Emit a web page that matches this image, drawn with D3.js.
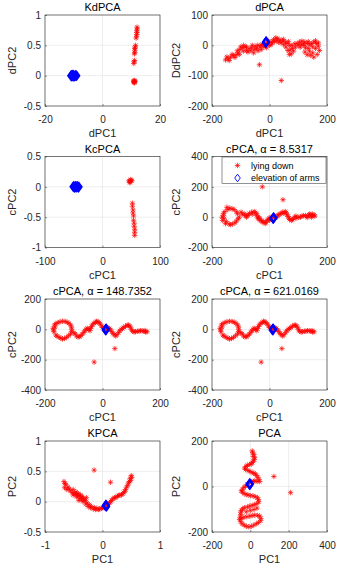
<!DOCTYPE html>
<html>
<head>
<meta charset="utf-8">
<script src="https://cdn.jsdelivr.net/npm/d3@7"></script>
<style>
	body { margin: 0; background: #fff; }
	svg { display: block; font-family: "Liberation Sans", Arial, Helvetica, sans-serif; }
</style>
</head>
<body>
<div id="chart"></div>
<script>
// ---- datos ----
const kdRed = [[11,-0.1],[11.1,-0.08],[10.9,-0.11],[11.2,-0.1],[11,-0.09],[11.1,-0.12],[10.8,-0.09],[11.3,-0.09],
	[10.9,0.2],[11,0.23],[11.1,0.25],
	[11.1,0.36],[11.2,0.38],[11.3,0.42],[11.2,0.45],[11.4,0.47],[11.5,0.5],
	[11.7,0.62],[11.8,0.65],[11.9,0.68],[12,0.71],[11.9,0.74],[12.1,0.77],[12,0.8]];
const kdBlue = [[-11,0],[-10.8,0.005],[-10.6,-0.005],[-10.4,0],[-10.2,0.01],[-10,0],[-9.8,-0.01],[-9.6,0],[-9.4,0.005],[-9.2,0],[-9,0],[-10.5,0.01],[-10.1,-0.01],[-10.7,-0.01]];

const dpcaRed = [[-153,-48],[-144,-44],[-135,-39],[-125,-34],[-116,-31],[-109,-25],[-103,-14],[-95,-8],[-85,-6],[-91,-19],
	[-80,-17],[-71,-11],[-62,-8],[-53,-14],[-50,-3],[-41,0],[-33,-6],[-25,3],[-18,8],[-29,-14],[-9,6],[-4,14],[6,11],
	[14,19],[22,25],[29,22],[37,17],[46,14],[55,11],[61,6],[57,-6],[64,-17],[69,-30],[76,-28],[84,-19],[90,-6],[96,6],
	[104,11],[113,14],[123,11],[131,6],[125,-8],[123,-22],[131,-31],[139,-19],[146,6],[154,11],[163,6],[170,-3],
	[174,-17],[166,-30],[154,-39],[143,-33],[78,0],[107,-6],
	[-148,-38],[-140,-50],[-130,-30],[-120,-40],[-112,-18],[-105,-30],[-100,-5],[-90,0],[-80,-5],[-75,-22],[-65,-18],
	[-60,0],[-55,-25],[-45,-10],[-40,-18],[-30,0],[-20,-5],[-15,0],[-10,-8],[-5,5],[0,0],[5,2],[10,8],[18,12],[25,16],
	[32,10],[40,8],[50,2],[48,20],[66,12],[70,0],[72,-15],[80,-10],[88,5],[100,0],[110,3],[118,5],[135,12],[140,2],
	[150,-5],[160,-10],[160,15],[170,8],[150,-25],[135,-10],[120,0],
	[-35,-64],[41,-116]];
const dpcaBlue = [[-13,8],[-12,10],[-11,12],[-12,13],[-13,11]];

const kcRed = [[46,0.1],[48,0.09],[50,0.11],[47,0.08],[49,0.12],[51,0.1],[48,0.07],
	[52,-0.27],[52,-0.32],[53,-0.38],[53,-0.43],[54,-0.48],[54,-0.55],[55,-0.6],[55,-0.65],[56,-0.7],[56,-0.75],[56,-0.8]];
const kcBlue = [[-51,0],[-50,0.01],[-49,-0.01],[-48,0],[-47,0.01],[-46,-0.01],[-45,0],[-44,0.01],[-43,0],[-42,-0.01],[-41,0]];

const cpcaLowRed = [[-165,0],[-163,-22],[-153,-43],[-136,-50],[-120,-37],[-109,-11],[-111,22],[-123,50],[-138,59],[-155,37],[-148,65],
	[-99,33],[-88,22],[-80,0],[-74,15],[-62,33],[-53,37],[-44,22],[-39,0],[-33,-22],[-25,-33],[-15,-43],[-8,-22],[-1,-7],
	[8,-7],[20,-2],[29,7],[37,22],[46,33],[55,37],[61,15],[67,-7],[76,-22],[84,-11],[92,7],[102,0],[113,7],[125,11],
	[137,15],[149,20],[158,7],[146,0],[131,-2],
	[-160,10],[-158,-10],[-150,-30],[-140,-45],[-128,-45],[-115,-25],[-105,0],[-115,35],[-130,55],[-145,50],[-160,25],
	[-95,20],[-85,10],[-78,10],[-70,25],[-60,20],[-50,30],[-45,10],[-40,-10],[-35,-5],[-28,-20],[-20,-30],[-12,-35],
	[-5,-15],[0,-20],[5,0],[15,5],[22,0],[30,15],[40,25],[50,25],[58,30],[65,5],[70,-15],[80,-15],[88,0],[95,-5],
	[108,0],[118,10],[130,5],[140,10],[150,10],[155,15],[140,22],
	[-25,200],[47,115]];
const cpcaLowBlue = [[12,-8],[14,-6],[15,-4],[13,-10],[14,-2]];

const cpcaHighRed = [[-172,7],[-169,-16],[-162,-38],[-151,-53],[-139,-64],[-125,-53],[-111,-31],[-107,0],[-111,29],[-123,47],
	[-139,53],[-155,44],[-167,29],[-100,-22],[-90,-44],[-79,-49],[-70,-31],[-61,-9],[-53,7],[-44,-9],[-38,18],[-30,40],
	[-21,53],[-12,44],[-3,22],[5,4],[20,9],[28,-4],[37,-27],[46,-44],[56,-22],[65,0],[74,13],[86,27],[95,22],[101,-4],
	[110,-18],[121,-13],[132,-9],[144,-13],[155,-16],
	[-170,-5],[-165,15],[-158,-45],[-145,-58],[-132,-60],[-118,-42],[-108,-15],[-108,15],[-117,40],[-130,52],[-148,50],
	[-162,38],[-95,-30],[-85,-50],[-75,-40],[-65,-20],[-57,0],[-48,0],[-42,5],[-35,30],[-25,45],[-16,50],[-8,35],
	[0,12],[8,0],[15,0],[24,5],[32,-15],[40,-35],[50,-35],[60,-10],[70,5],[80,20],[90,28],[98,10],[105,-12],[115,-15],
	[127,-12],[138,-10],[150,-18],[148,-8],
	[43,-127],[-29,-216]];
const cpcaHighBlue = [[10,-4],[12,0],[13,4],[11,2],[12,-6]];

const kpcaRed = [[-0.67,0.33],[-0.64,0.28],[-0.66,0.23],[-0.6,0.24],[-0.56,0.18],[-0.51,0.2],[-0.46,0.16],[-0.42,0.13],
	[-0.38,0.11],[-0.35,0.08],[-0.45,0.08],[-0.51,0.11],[-0.41,0.02],[-0.34,0],[-0.29,-0.04],[-0.25,-0.08],[-0.21,-0.1],
	[-0.16,-0.12],[-0.12,-0.13],[-0.07,-0.13],[-0.02,-0.11],[0.02,-0.09],[0.07,-0.065],[0.12,-0.02],[0.16,0.02],
	[0.21,0.065],[0.26,0.09],[0.3,0.11],[0.35,0.13],[0.39,0.17],[0.42,0.24],[0.45,0.31],[0.48,0.38],[0.5,0.43],
	[0.49,0.35],[-0.28,0.065],[-0.32,0.03],
	[-0.65,0.3],[-0.62,0.2],[-0.58,0.21],[-0.53,0.15],[-0.48,0.13],[-0.44,0.1],[-0.4,0.06],[-0.37,0.04],[-0.33,0.05],
	[-0.3,0.02],[-0.27,-0.02],[-0.23,-0.05],[-0.19,-0.08],[-0.14,-0.1],[-0.1,-0.11],[-0.05,-0.12],[0,-0.1],[0.04,-0.08],
	[0.1,-0.04],[0.14,0],[0.18,0.05],[0.23,0.07],[0.28,0.1],[0.33,0.11],[0.37,0.15],[0.4,0.2],[0.44,0.27],[0.47,0.33],
	[0.51,0.4],[-0.43,0.12],[-0.49,0.14],[-0.38,0.08],
	[-0.145,0.52],[0.14,0.32]];
const kpcaBlue = [[0.05,-0.07],[0.06,-0.06],[0.07,-0.08],[0.06,-0.05]];

const pcaRed = [[10,156],[19,141],[23,126],[16,111],[5,99],[-16,93],[-30,81],[-12,70],[9,62],[26,55],[40,40],[49,22],
	[23,25],[5,22],[-16,10],[-33,-4],[-47,-19],[-33,-31],[-12,-37],[14,-41],[37,-49],[44,-67],[23,-79],[-3,-86],
	[-30,-93],[-47,-105],[-50,-123],[-56,-145],[-43,-164],[-21,-175],[5,-175],[31,-164],[54,-150],[49,-130],[23,-126],
	[-3,-130],[-33,-135],[-21,-111],[19,-101],
	[12,148],[15,132],[20,118],[10,105],[-5,97],[-22,88],[-25,75],[-2,66],[18,58],[33,48],[45,30],[35,22],[15,22],
	[-5,16],[-25,2],[-40,-12],[-42,-25],[-22,-35],[0,-40],[25,-45],[42,-58],[35,-75],[10,-83],[-15,-90],[-40,-98],
	[-50,-113],[-53,-135],[-50,-155],[-32,-170],[-8,-177],[18,-170],[43,-158],[55,-140],[38,-127],[10,-128],[-18,-133],
	[-45,-140],[0,-105],[35,-95],
	[123,44],[210,-27]];
const pcaBlue = [[-4,8],[-2,12],[-3,14],[-5,10],[-1,9]];

const legendLabels = ["lying down", "elevation of arms"];

const panels = [
	{ title: "KdPCA", xLabel: "dPC1", yLabel: "dPC2", xTicks: [-20, 0, 20], yTicks: [-0.5, 0, 0.5, 1], red: kdRed, blue: kdBlue },
	{ title: "dPCA", xLabel: "dPC1", yLabel: "DdPC2", xTicks: [-200, 0, 200], yTicks: [-200, -100, 0, 100], red: dpcaRed, blue: dpcaBlue },
	{ title: "KcPCA", xLabel: "cPC1", yLabel: "cPC2", xTicks: [-100, 0, 100], yTicks: [-1, -0.5, 0, 0.5], red: kcRed, blue: kcBlue },
	{ title: "cPCA, α = 8.5317", xLabel: "cPC1", yLabel: "cPC2", xTicks: [-200, 0, 200], yTicks: [-200, 0, 200, 400], red: cpcaLowRed, blue: cpcaLowBlue, legend: true },
	{ title: "cPCA, α = 148.7352", xLabel: "cPC1", yLabel: "cPC2", xTicks: [-200, 0, 200], yTicks: [-400, -200, 0, 200], red: cpcaHighRed, blue: cpcaHighBlue },
	{ title: "cPCA, α = 621.0169", xLabel: "cPC1", yLabel: "cPC2", xTicks: [-200, 0, 200], yTicks: [-400, -200, 0, 200], red: cpcaHighRed, blue: cpcaHighBlue },
	{ title: "KPCA", xLabel: "PC1", yLabel: "PC2", xTicks: [-1, 0, 1], yTicks: [-0.5, 0, 0.5, 1], red: kpcaRed, blue: kpcaBlue },
	{ title: "PCA", xLabel: "PC1", yLabel: "PC2", xTicks: [-200, 0, 200, 400], yTicks: [-200, 0, 200], red: pcaRed, blue: pcaBlue }
];

// ---- layout ----
const colLeft = [45, 212];
const rowTop = [15, 156.5, 299, 441];
const ancho = 115;
const alto = 91;
const txtColor = "#262626";

const svg = d3.select("#chart")
	.append("svg")
	.attr("width", 343)
	.attr("height", 574);

// asterisco estilo matlab (+ y x)
const s = 2.7, a = 1.9;
const asterisco = `M0,${-s}L0,${s}M${-s},0L${s},0M${-a},${-a}L${a},${a}M${-a},${a}L${a},${-a}`;
const diamante = "M0,-4.2L3,0L0,4.2L-3,0Z";

panels.forEach((p, i) => {
	const left = colLeft[i % 2];
	const top = rowTop[Math.floor(i / 2)];
	const g = svg.append("g").attr("transform", `translate(${left},${top})`);

	const x = d3.scaleLinear().domain(d3.extent(p.xTicks)).range([0, ancho]);
	const y = d3.scaleLinear().domain(d3.extent(p.yTicks)).range([alto, 0]);

	g.append("rect").attr("width", ancho).attr("height", alto).attr("fill", "#fff");

	// grilla
	g.selectAll(".gx").data(p.xTicks).enter().append("line")
		.attr("x1", d => x(d)).attr("x2", d => x(d)).attr("y1", 0).attr("y2", alto)
		.attr("stroke", "#e3e3e3").attr("stroke-width", 0.6);
	g.selectAll(".gy").data(p.yTicks).enter().append("line")
		.attr("x1", 0).attr("x2", ancho).attr("y1", d => y(d)).attr("y2", d => y(d))
		.attr("stroke", "#e3e3e3").attr("stroke-width", 0.6);

	// ejes
	const xAxis = d3.axisBottom(x).tickValues(p.xTicks).tickFormat(d => String(d)).tickSize(-2).tickPadding(10);
	const yAxis = d3.axisLeft(y).tickValues(p.yTicks).tickFormat(d => String(d)).tickSize(-2).tickPadding(4);

	const gx = g.append("g").attr("transform", `translate(0,${alto})`).call(xAxis);
	const gy = g.append("g").call(yAxis);
	[gx, gy].forEach(ax => {
		ax.select(".domain").remove();
		ax.selectAll("line").attr("stroke", txtColor).attr("stroke-width", 0.5);
		ax.selectAll("text").attr("fill", txtColor).style("font-size", "10px").style("font-family", null);
	});

	// puntos
	g.selectAll(".red").data(p.red).enter().append("path")
		.attr("d", asterisco)
		.attr("transform", d => `translate(${x(d[0])},${y(d[1])})`)
		.attr("fill", "none").attr("stroke", "#ff0000").attr("stroke-width", 0.7);
	g.selectAll(".blue").data(p.blue).enter().append("path")
		.attr("d", diamante)
		.attr("transform", d => `translate(${x(d[0])},${y(d[1])})`)
		.attr("fill", "none").attr("stroke", "#0000ff").attr("stroke-width", 1.5);

	// caja
	g.append("rect").attr("width", ancho).attr("height", alto)
		.attr("fill", "none").attr("stroke", txtColor).attr("stroke-width", 0.6);

	// textos
	g.append("text").attr("x", ancho / 2).attr("y", -4).attr("text-anchor", "middle")
		.attr("fill", "#000").style("font-size", "11px").text(p.title);
	g.append("text").attr("x", ancho / 2).attr("y", alto + 31).attr("text-anchor", "middle")
		.attr("fill", txtColor).style("font-size", "11px").text(p.xLabel);
	const ylx = i % 2 === 0 ? -33 : -36;
	g.append("text").attr("transform", `translate(${ylx},${alto / 2}) rotate(-90)`)
		.attr("text-anchor", "middle").attr("dy", "0.35em")
		.attr("fill", txtColor).style("font-size", "11px").text(p.yLabel);

	if (p.legend) {
		const lg = g.append("g").attr("transform", "translate(10,0.5)");
		lg.append("rect").attr("width", 104).attr("height", 26.5)
			.attr("fill", "#fff").attr("stroke", txtColor).attr("stroke-width", 0.5);
		const filas = lg.selectAll(".fila").data(legendLabels).enter().append("g")
			.attr("transform", (d, k) => `translate(15.5,${8.5 + k * 12.5})`);
		filas.append("path")
			.attr("d", (d, k) => k === 0 ? asterisco : "M0,-3.8L2.8,0L0,3.8L-2.8,0Z")
			.attr("fill", "none")
			.attr("stroke", (d, k) => k === 0 ? "#ff0000" : "#0000ff")
			.attr("stroke-width", (d, k) => k === 0 ? 0.7 : 0.9);
		filas.append("text").attr("x", 13.5).attr("dy", "0.35em")
			.attr("fill", "#000").style("font-size", "9px").text(d => d);
	}
});
</script>
</body>
</html>
